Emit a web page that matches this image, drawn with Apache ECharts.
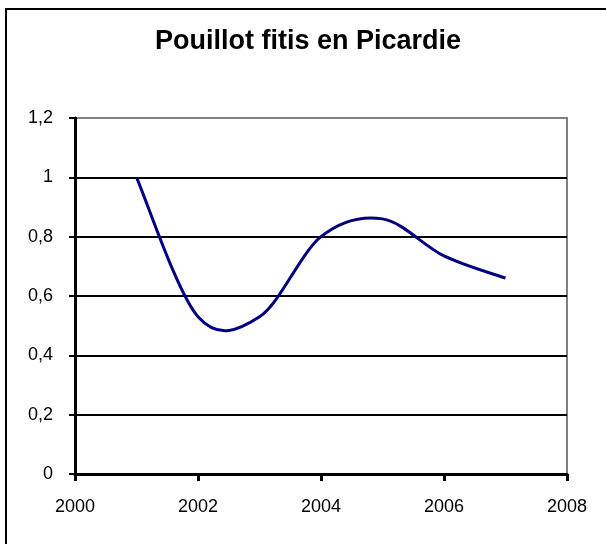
<!DOCTYPE html>
<html>
<head>
<meta charset="utf-8">
<script src="https://cdn.jsdelivr.net/npm/echarts@6/dist/echarts.min.js"></script>
<style>
    html, body { margin: 0; padding: 0; background: #fff; }
    #chart { width: 606px; height: 544px; }
</style>
</head>
<body>
<div id="chart"></div>
<script>
// données : indice du Pouillot fitis par année
const years = [2001, 2002, 2003, 2004, 2005, 2006, 2007];
const indices = [1.0, 0.53, 0.53, 0.80, 0.86, 0.735, 0.66];
const titleText = 'Pouillot fitis en Picardie';

// format français des décimales
function frLabel(v) {
    return String(+v.toFixed(1)).replace('.', ',');
}

// courbe lissée façon Excel (Catmull-Rom -> Bézier), en pixels via api.coord
function renderSmoothLine(params, api) {
    if (params.dataIndex !== 0) return null;
    const pts = years.map((y, i) => api.coord([y, indices[i]]));
    let d = 'M' + pts[0][0] + ' ' + pts[0][1];
    for (let i = 0; i < pts.length - 1; i++) {
        const p0 = pts[i - 1] || pts[i];
        const p1 = pts[i];
        const p2 = pts[i + 1];
        const p3 = pts[i + 2] || pts[i + 1];
        const c1x = p1[0] + (p2[0] - p0[0]) / 6;
        const c1y = p1[1] + (p2[1] - p0[1]) / 6;
        const c2x = p2[0] - (p3[0] - p1[0]) / 6;
        const c2y = p2[1] - (p3[1] - p1[1]) / 6;
        d += ' C' + c1x + ' ' + c1y + ' ' + c2x + ' ' + c2y + ' ' + p2[0] + ' ' + p2[1];
    }
    return {
        type: 'path',
        shape: { pathData: d },
        style: { fill: 'none', stroke: '#000080', lineWidth: 3 }
    };
}

const chart = echarts.init(document.getElementById('chart'));

const option = {
    backgroundColor: '#fff',
    animation: false,
    title: {
        text: titleText,
        left: 303,
        textAlign: 'center',
        top: 23,
        textStyle: {
            fontFamily: 'Liberation Sans, Arial, sans-serif',
            fontWeight: 'bold',
            fontSize: 27,
            color: '#000'
        }
    },
    graphic: [{
        type: 'rect',
        shape: { x: 6, y: 9, width: 700, height: 700 },
        style: { fill: 'none', stroke: '#000', lineWidth: 2 },
        silent: true
    }],
    grid: {
        left: 75,
        top: 118,
        width: 492,
        height: 356,
        show: true,
        borderColor: '#808080',
        borderWidth: 2,
        backgroundColor: '#fff'
    },
    xAxis: {
        type: 'value',
        min: 2000,
        max: 2008,
        interval: 2,
        axisLine: { show: true, lineStyle: { color: '#000', width: 3 } },
        axisTick: { show: true, length: 7, lineStyle: { color: '#000', width: 3 } },
        splitLine: { show: false },
        axisLabel: {
            margin: 24,
            color: '#000',
            fontFamily: 'Liberation Sans, Arial, sans-serif',
            fontSize: 18,
            formatter: v => String(v)
        }
    },
    yAxis: {
        type: 'value',
        min: 0,
        max: 1.2,
        interval: 0.2,
        axisLine: { show: true, lineStyle: { color: '#000', width: 3 } },
        axisTick: { show: true, length: 6, lineStyle: { color: '#000', width: 2 } },
        splitLine: {
            show: true,
            lineStyle: {
                color: ['#000', '#000', '#000', '#000', '#000', '#000', '#808080'],
                width: 2
            }
        },
        axisLabel: {
            margin: 22,
            color: '#000',
            fontFamily: 'Liberation Sans, Arial, sans-serif',
            fontSize: 18,
            formatter: frLabel
        }
    },
    series: [{
        type: 'custom',
        data: years.map((y, i) => [y, indices[i]]),
        encode: { x: 0, y: 1 },
        renderItem: renderSmoothLine,
        clip: false,
        silent: true,
        z: 5
    }]
};

chart.setOption(option);
</script>
</body>
</html>
